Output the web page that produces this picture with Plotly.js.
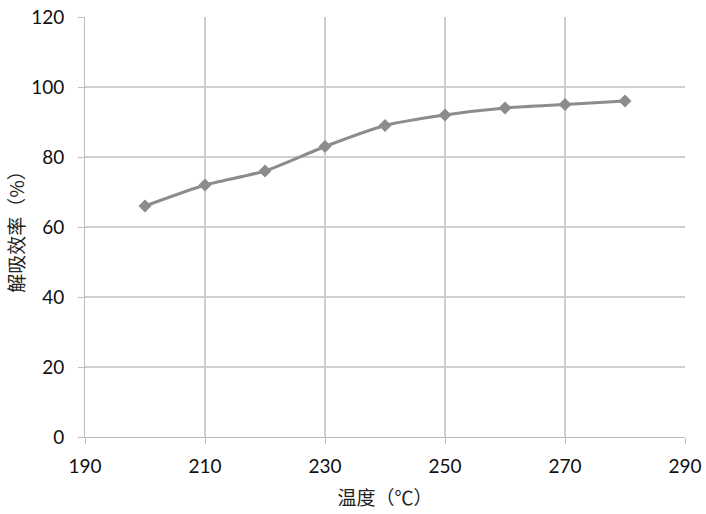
<!DOCTYPE html>
<html>
<head>
<meta charset="utf-8">
<script src="https://cdn.plot.ly/plotly-3.0.1.min.js"></script>
<style>html,body{margin:0;padding:0;background:#fff;}#chart{width:706px;height:514px;}</style>
</head>
<body>
<div id="chart"></div>
<script>
const temperature = [200, 210, 220, 230, 240, 250, 260, 270, 280];
const efficiency = [66, 72, 76, 83, 89, 92, 94, 95, 96];
const xTicks = [190, 210, 230, 250, 270, 290];
const yTicks = [0, 20, 40, 60, 80, 100, 120];
const xTitle = '温度（℃）';
const yTitle = '解吸效率（%）';

const trace = {
  x: temperature,
  y: efficiency,
  mode: 'lines+markers',
  line: {color: '#8c8c8c', width: 3, shape: 'spline', smoothing: 0.6},
  marker: {symbol: 'diamond', size: 10, color: '#8c8c8c'},
  hoverinfo: 'x+y'
};

const titleFont = {family: '"Noto Sans CJK SC", sans-serif', size: 19, color: '#222'};

const layout = {
  width: 706, height: 514,
  margin: {l: 85, r: 21, t: 16.5, b: 77},
  paper_bgcolor: '#ffffff', plot_bgcolor: '#ffffff',
  showlegend: false,
  font: {family: 'Lato, "Liberation Sans", sans-serif', size: 19, color: '#111'},
  xaxis: {
    range: [190, 290], tickvals: xTicks, ticktext: xTicks.map(String),
    showgrid: true, gridcolor: '#cfcfcf', gridwidth: 1.3,
    zeroline: false, showline: true, linecolor: '#bdbdbd', linewidth: 1,
    ticks: 'outside', ticklen: 6, tickcolor: '#bdbdbd',
    ticklabelstandoff: 6,
    tickfont: {size: 19}, mirror: false,
    title: {text: xTitle, font: titleFont, standoff: 15}
  },
  yaxis: {
    range: [0, 120], tickvals: yTicks, ticktext: yTicks.map(String),
    showgrid: true, gridcolor: '#cfcfcf', gridwidth: 1.3,
    zeroline: false, showline: true, linecolor: '#bdbdbd', linewidth: 1,
    ticks: 'outside', ticklen: 6, tickcolor: '#bdbdbd',
    ticklabelstandoff: 10,
    tickfont: {size: 19},
    title: {text: yTitle, font: titleFont, standoff: 1}
  }
};

Plotly.newPlot('chart', [trace], layout, {displayModeBar: false, staticPlot: true});
</script>
</body>
</html>
